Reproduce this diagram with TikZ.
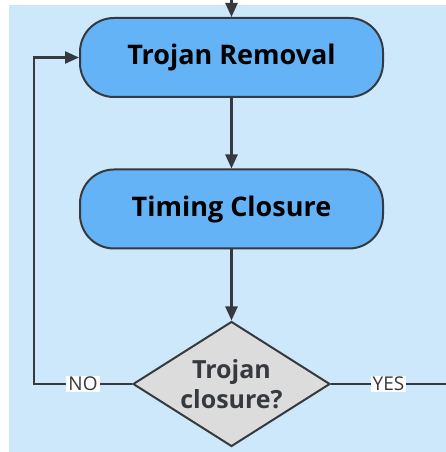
\documentclass[tikz,border=0pt]{standalone}
\usepackage{fontspec}
\setmainfont{Open Sans}
\usetikzlibrary{arrows.meta,shapes.geometric}
\definecolor{bgblue}{HTML}{CDE7FB}
\definecolor{boxblue}{HTML}{63B3F6}
\definecolor{linegray}{HTML}{363A3E}
\definecolor{diagray}{HTML}{DCDCDC}
\tikzset{
  x=1pt, y=1pt,
  flow/.style={draw=linegray, line width=2.4pt, -{Triangle[length=14pt,width=12pt]}},
  plain/.style={draw=linegray, line width=2.4pt},
  procbox/.style={draw=linegray, line width=2pt, fill=boxblue, rounded corners=34pt,
    minimum width=303pt, minimum height=79pt, font=\bfseries\fontsize{27}{31}\selectfont, text=black},
  decision/.style={diamond, draw=linegray, line width=2pt, fill=diagray, aspect=1.58,
    minimum width=197pt, minimum height=125pt, inner sep=0pt,
    font=\bfseries\fontsize{25}{30}\selectfont, text=linegray, align=center},
  tag/.style={fill=white, inner xsep=2pt, inner ysep=1.5pt, text=linegray, font=\fontsize{19}{21}\selectfont}
}
\begin{document}
\begin{tikzpicture}
  \useasboundingbox (0,0) rectangle (446,452);
  \fill[bgblue] (9,0) rectangle (446,447);
  % process steps and the decision
  \node[procbox] (removal) at (231.5,394.5) {Trojan Removal};
  \node[procbox] (timing) at (231.5,243) {Timing Closure};
  \node[decision] (check) at (231.5,68) {Trojan\\closure?};
  % loop corners and exits
  \coordinate (top) at (231.5,452);
  \coordinate (noturn) at (34,68);
  \coordinate (noup) at (34,394.5);
  \coordinate (yesend) at (446,68);
  \draw[flow] (top) -- (removal.north);
  \draw[flow] (removal.south) -- (timing.north);
  \draw[flow] (timing.south) -- (check.north);
  \draw[flow] (check.west) -- node[tag, pos=0.5] (no) {NO} (noturn) -- (noup) -- (removal.west);
  \draw[plain] (check.east) -- node[tag] (yes) {YES} (yesend);
\end{tikzpicture}
\end{document}
